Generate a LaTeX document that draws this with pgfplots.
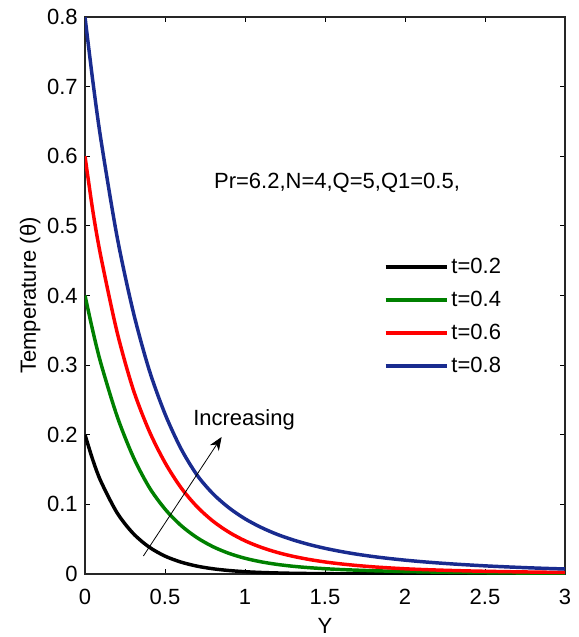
\documentclass[border=0pt]{standalone}
\usepackage{pgfplots}
\pgfplotsset{compat=1.18}
\usepackage{fontspec}
\setmainfont{Liberation Sans}
\usetikzlibrary{arrows.meta}
\definecolor{mblue}{rgb}{0.10,0.17,0.56}
\definecolor{mgreen}{rgb}{0,0.5,0}
\newcommand{\fs}{\fontsize{16.5}{19}\selectfont}
\begin{document}
\begin{tikzpicture}
\useasboundingbox (-63.75pt,-47.25pt) rectangle (370.5pt,430.5pt);
\begin{axis}[
  at={(0,0)}, anchor=south west,
  scale only axis, width=360pt, height=417.75pt,
  xmin=0, xmax=3, ymin=0, ymax=0.8,
  xtick={0,0.5,1,1.5,2,2.5,3},
  xticklabels={0,0.5,1,1.5,2,2.5,3},
  ytick={0,0.1,0.2,0.3,0.4,0.5,0.6,0.7,0.8},
  yticklabels={0,0.1,0.2,0.3,0.4,0.5,0.6,0.7,0.8},
  tick align=inside, major tick length=4pt,
  tick style={black, line width=0.6pt},
  axis line style={line width=0.8pt, black!85},
  /pgf/number format/assume math mode=true,
  ticklabel style={font=\fs},
  xticklabel style={yshift=-8pt},
  yticklabel style={xshift=-2pt},
  label style={font=\fs},
  xlabel={Y}, ylabel={Temperature (θ)},
  xlabel style={yshift=-3.5pt},
  ylabel style={yshift=-2pt},
  legend style={draw=none, fill=none, at={(rel axis cs:0.614,0.577)}, anchor=north west,
    font=\fs, row sep=7.7pt},
  legend cell align=left,
  legend image code/.code={\draw[#1] (0pt,0pt) -- (46pt,0pt);},
  every axis plot/.append style={line width=2.6pt, smooth},
]
\addplot[black] coordinates {(0,0.2)(0.05,0.163)(0.1,0.1327)(0.2,0.0881)(0.3,0.0585)(0.4,0.0388)(0.5,0.0257)(0.6,0.0171)(0.7,0.0113)(0.8,0.0075)(0.9,0.005)(1.0,0.0033)(1.1,0.0022)(1.2,0.0015)(1.3,0.001)(1.4,0.0007)(1.5,0.0005)(1.6,0.0003)(1.7,0.0002)(1.8,0.00015)(1.9,0.0001)(2.0,0.0001)(2.1,0.0)(2.2,0.0)(2.3,0.0)(2.4,0.0)(2.5,0.0)(2.6,0.0)(2.7,0.0)(2.8,0.0)(2.9,0.0)(3.0,0.0)};
\addlegendentry{t=0.2}
\addplot[mgreen] coordinates {(0,0.4)(0.05,0.348)(0.1,0.302)(0.2,0.227)(0.3,0.169)(0.4,0.125)(0.5,0.0933)(0.6,0.0697)(0.7,0.0522)(0.8,0.0392)(0.9,0.0296)(1.0,0.0226)(1.1,0.0175)(1.2,0.0138)(1.3,0.0111)(1.4,0.0091)(1.5,0.0076)(1.6,0.0064)(1.7,0.0055)(1.8,0.0047)(1.9,0.0041)(2.0,0.0035)(2.1,0.0031)(2.2,0.0027)(2.3,0.0024)(2.4,0.0021)(2.5,0.0018)(2.6,0.0016)(2.7,0.0014)(2.8,0.0012)(2.9,0.0011)(3.0,0.001)};
\addlegendentry{t=0.4}
\addplot[red] coordinates {(0,0.6)(0.05,0.52)(0.1,0.455)(0.2,0.348)(0.3,0.266)(0.4,0.206)(0.5,0.16)(0.6,0.124)(0.7,0.0967)(0.8,0.0759)(0.9,0.06)(1.0,0.0477)(1.1,0.0384)(1.2,0.0311)(1.3,0.0254)(1.4,0.0209)(1.5,0.0173)(1.6,0.0145)(1.7,0.0122)(1.8,0.0103)(1.9,0.0088)(2.0,0.0075)(2.1,0.0065)(2.2,0.0057)(2.3,0.005)(2.4,0.0044)(2.5,0.0039)(2.6,0.0035)(2.7,0.0031)(2.8,0.0028)(2.9,0.0025)(3.0,0.0023)};
\addlegendentry{t=0.6}
\addplot[mblue] coordinates {(0,0.8)(0.05,0.706)(0.1,0.623)(0.2,0.485)(0.3,0.378)(0.4,0.294)(0.5,0.23)(0.6,0.18)(0.7,0.1422)(0.8,0.1152)(0.9,0.095)(1.0,0.0793)(1.1,0.067)(1.2,0.057)(1.3,0.049)(1.4,0.0424)(1.5,0.0369)(1.6,0.0323)(1.7,0.0284)(1.8,0.0251)(1.9,0.0223)(2.0,0.0199)(2.1,0.0178)(2.2,0.016)(2.3,0.0144)(2.4,0.013)(2.5,0.0117)(2.6,0.0106)(2.7,0.0096)(2.8,0.0087)(2.9,0.0079)(3.0,0.0072)};
\addlegendentry{t=0.8}
\node[font=\fs] at (axis cs:1.575,0.562) {Pr=6.2,N=4,Q=5,Q1=0.5,};
\node[font=\fs] at (axis cs:0.994,0.221) {Increasing};
\draw[line width=0.6pt, -{Stealth[length=10pt,width=8pt]}] (axis cs:0.365,0.0259) -- (axis cs:0.854,0.1968);
\end{axis}
\end{tikzpicture}
\end{document}
